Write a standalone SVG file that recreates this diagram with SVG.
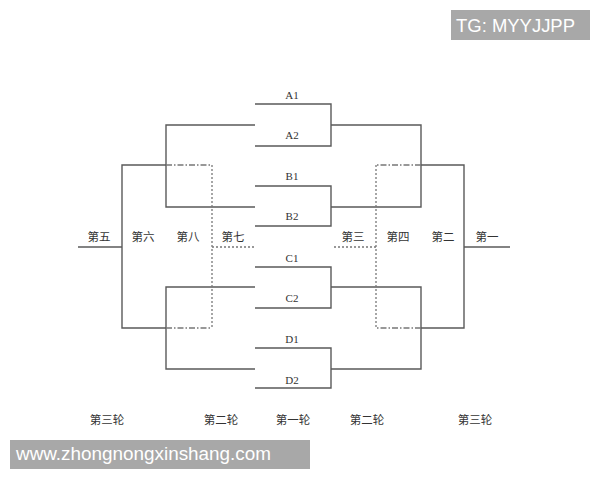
<svg xmlns="http://www.w3.org/2000/svg" width="600" height="480" viewBox="0 0 600 480">
<style>
.ln{fill:none;stroke:#5a5a5a;stroke-width:1.4}
.dd{fill:none;stroke:#777;stroke-width:1.3;stroke-dasharray:6,2,1.5,2}
.dt{fill:none;stroke:#777;stroke-width:1.3;stroke-dasharray:2,2}
.lb{font-family:"Liberation Serif","Noto Sans CJK SC",serif;font-size:11px;fill:#333;text-anchor:middle}
.cn{font-family:"Noto Sans CJK SC",sans-serif;font-size:11.5px;fill:#333;text-anchor:middle}
.wm{font-family:"Liberation Sans",Arial,sans-serif;fill:#fff}
</style>
<rect width="600" height="480" fill="#fff"/>
<g id="matchA"><path class="ln" d="M255,104H331V146H255"/><text class="lb" x="292" y="99">A1</text><text class="lb" x="292" y="139">A2</text></g>
<g id="matchB"><path class="ln" d="M255,186H331V226H255"/><text class="lb" x="292" y="180">B1</text><text class="lb" x="292" y="220">B2</text></g>
<g id="matchC"><path class="ln" d="M255,267H331V308H255"/><text class="lb" x="292" y="262">C1</text><text class="lb" x="292" y="302">C2</text></g>
<g id="matchD"><path class="ln" d="M255,348H331V388H255"/><text class="lb" x="292" y="343">D1</text><text class="lb" x="292" y="384">D2</text></g>
<g id="connectors">
<path class="ln" d="M255,125H166V207H255"/>
<path class="ln" d="M255,287H166V369H255"/>
<path class="ln" d="M166,165H122V328H166"/>
<path class="ln" d="M122,247H78"/>
<path class="ln" d="M331,125H421V207H331"/>
<path class="ln" d="M331,287H421V369H331"/>
<path class="ln" d="M421,165H464V328H421"/>
<path class="ln" d="M464,247H510"/>
<path class="dd" d="M166,165H212"/>
<path class="dd" d="M166,328H212"/>
<path class="dt" d="M212,165V328"/>
<path class="dt" d="M212,247H255"/>
<path class="dd" d="M421,165H376"/>
<path class="dd" d="M421,328H376"/>
<path class="dt" d="M376,165V328"/>
<path class="dt" d="M376,247H332"/>
</g>
<g id="labels">
<text class="cn" x="99" y="241">第五</text>
<text class="cn" x="143" y="241">第六</text>
<text class="cn" x="188" y="241">第八</text>
<text class="cn" x="233" y="241">第七</text>
<text class="cn" x="353" y="241">第三</text>
<text class="cn" x="398" y="241">第四</text>
<text class="cn" x="443" y="241">第二</text>
<text class="cn" x="487" y="241">第一</text>
<text class="cn" x="107" y="424">第三轮</text>
<text class="cn" x="221" y="424">第二轮</text>
<text class="cn" x="293" y="424">第一轮</text>
<text class="cn" x="367" y="424">第二轮</text>
<text class="cn" x="475" y="424">第三轮</text>
</g>
<g id="watermark-top"><rect x="451" y="10" width="139" height="30" fill="#a8a8a8"/><text class="wm" x="456" y="31.5" font-size="17.5" textLength="119" lengthAdjust="spacingAndGlyphs">TG: MYYJJPP</text></g>
<g id="watermark-bottom"><rect x="10" y="440" width="300" height="29" fill="#a8a8a8"/><text class="wm" x="16" y="460" font-size="17.5" textLength="255" lengthAdjust="spacingAndGlyphs">www.zhongnongxinshang.com</text></g>
</svg>
